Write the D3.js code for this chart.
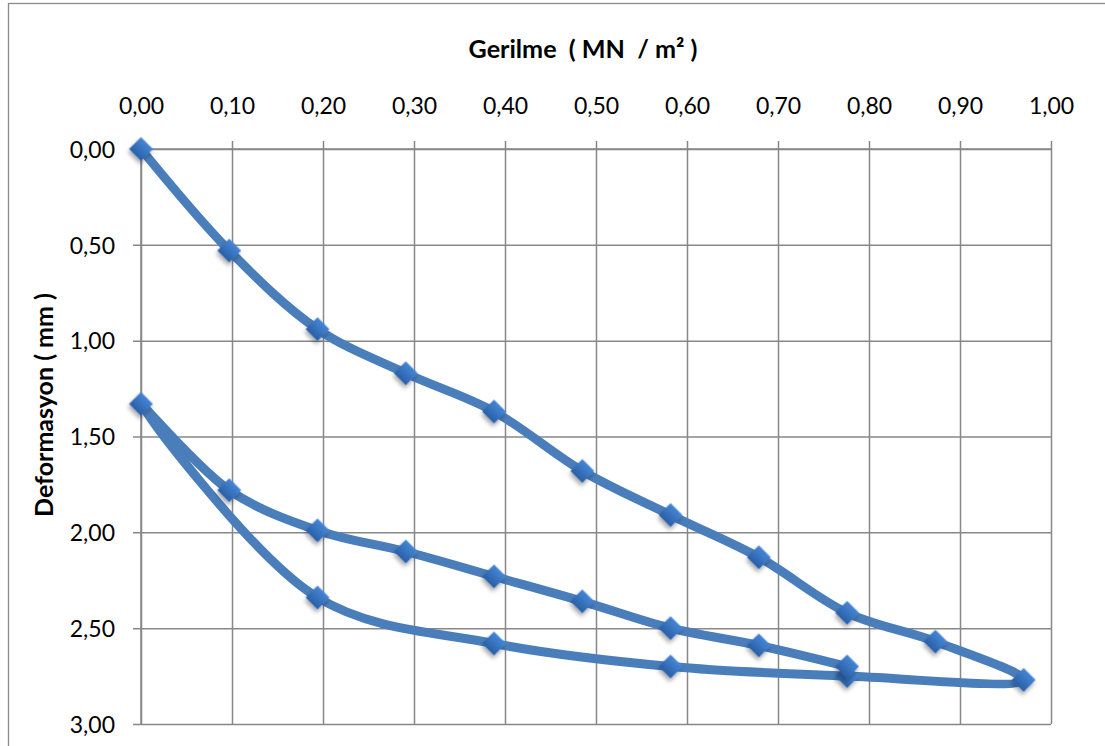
<!DOCTYPE html>
<html>
<head>
<meta charset="utf-8">
<script src="https://cdn.jsdelivr.net/npm/d3@7"></script>
<style>
  html, body { margin: 0; padding: 0; background: #ffffff; }
  svg { display: block; }
  text { font-family: Lato, "Open Sans", sans-serif; fill: #000; }
</style>
</head>
<body>
<svg id="chart" width="1105" height="746"></svg>
<script>
// ---- data (single smoothed series: loading, unloading, reloading) ----
const stress = [0.000, 0.097, 0.194, 0.291, 0.388, 0.485, 0.582, 0.679, 0.776, 0.873, 0.970,
                0.776, 0.582, 0.388, 0.194, 0.000,
                0.097, 0.194, 0.291, 0.388, 0.485, 0.582, 0.679, 0.776];
const deformation = [0.00, 0.53, 0.94, 1.17, 1.37, 1.68, 1.91, 2.13, 2.42, 2.57, 2.77,
                     2.75, 2.70, 2.58, 2.34, 1.33,
                     1.78, 1.99, 2.10, 2.23, 2.36, 2.50, 2.59, 2.70];
const xTickValues = [0, 0.1, 0.2, 0.3, 0.4, 0.5, 0.6, 0.7, 0.8, 0.9, 1.0];
const xTickLabels = ["0,00","0,10","0,20","0,30","0,40","0,50","0,60","0,70","0,80","0,90","1,00"];
const yTickValues = [0, 0.5, 1.0, 1.5, 2.0, 2.5, 3.0];
const yTickLabels = ["0,00","0,50","1,00","1,50","2,00","2,50","3,00"];
const xTitle = "Gerilme\u00a0 ( MN\u00a0 / m\u00b2 )";
const yTitle = "Deformasyon ( mm )";

// ---- layout ----
const W = 1105, H = 746;
const plot = { left: 141, right: 1051, top: 149, bottom: 724 };
const svg = d3.select("#chart");

svg.append("rect").attr("x", 0).attr("y", 0).attr("width", W).attr("height", H).attr("fill", "#fff");
// outer chart frame (extends past the right/bottom edge)
svg.append("rect").attr("x", 8.5).attr("y", 3.5).attr("width", 1200).attr("height", 800)
   .attr("fill", "none").attr("stroke", "#8c8c8c").attr("stroke-width", 1.3);

const x = d3.scaleLinear().domain([0, 1]).range([plot.left, plot.right]);
const y = d3.scaleLinear().domain([0, 3]).range([plot.top, plot.bottom]);

const defs = svg.append("defs");
const grad = defs.append("linearGradient").attr("id", "mk").attr("x1", 0).attr("y1", 0).attr("x2", 0).attr("y2", 1);
grad.append("stop").attr("offset", "0%").attr("stop-color", "#4586d6");
grad.append("stop").attr("offset", "100%").attr("stop-color", "#2a5fa6");
const f = defs.append("filter").attr("id", "sh").attr("x", "-50%").attr("y", "-50%").attr("width", "200%").attr("height", "200%");
f.append("feDropShadow").attr("dx", 1.5).attr("dy", 3).attr("stdDeviation", 2)
 .attr("flood-color", "#000").attr("flood-opacity", 0.35);

const gridColor = "#878787";

// vertical gridlines + top ticks
const xAxis = d3.axisTop(x).tickValues(xTickValues)
  .tickFormat((d, i) => xTickLabels[i]).tickSize(8).tickPadding(27);
const gx = svg.append("g").attr("transform", `translate(0,${plot.top})`).call(xAxis);
gx.select(".domain").attr("stroke", gridColor).attr("stroke-width", 1.5).attr("d", `M${plot.left},0H${plot.right}`);
gx.selectAll(".tick line").attr("stroke", gridColor).attr("stroke-width", 1.5)
  .attr("y1", plot.bottom - plot.top).attr("y2", -8);
gx.selectAll(".tick text").attr("font-size", 23).attr("font-family", "Lato").attr("fill", "#000");

// horizontal gridlines + left ticks
const yAxis = d3.axisLeft(y).tickValues(yTickValues)
  .tickFormat((d, i) => yTickLabels[i]).tickSize(8).tickPadding(18);
const gy = svg.append("g").attr("transform", `translate(${plot.left},0)`).call(yAxis);
gy.select(".domain").attr("stroke", gridColor).attr("stroke-width", 1.5).attr("d", `M0,${plot.top}V${plot.bottom}`);
gy.selectAll(".tick line").attr("stroke", gridColor).attr("stroke-width", 1.5)
  .attr("x1", -8).attr("x2", plot.right - plot.left);
gy.selectAll(".tick text").attr("font-size", 23).attr("font-family", "Lato").attr("fill", "#000").attr("dy", "0.36em");

// titles
const tX = svg.append("text").attr("x", 583).attr("y", 58).attr("text-anchor", "middle")
  .attr("font-weight", "bold").attr("font-size", 22).attr("xml:space", "preserve").text(xTitle);
const tY = svg.append("text").attr("transform", "translate(53,405) rotate(-90)").attr("text-anchor", "middle")
  .attr("font-weight", "bold").attr("font-size", 22).text(yTitle);
function fitWidth(sel, target) {
  const w = sel.node().getComputedTextLength();
  const fs = +sel.attr("font-size");
  sel.attr("font-size", (fs * target / w).toFixed(2));
}
fitWidth(tX, 229);
fitWidth(tY, 224);

// series
const pts = stress.map((s, i) => [s, deformation[i]]);
const line = d3.line().x(d => x(d[0])).y(d => y(d[1])).curve(d3.curveCatmullRom.alpha(0.5));
svg.append("path").datum(pts).attr("d", line)
  .attr("fill", "none").attr("stroke", "#4a7ebb").attr("stroke-width", 9)
  .attr("stroke-linejoin", "round").attr("stroke-linecap", "round");

svg.append("g").selectAll("path").data(pts).join("path")
  .attr("transform", d => `translate(${x(d[0])},${y(d[1])}) rotate(45)`)
  .attr("d", d3.symbol().type(d3.symbolSquare).size(285))
  .attr("fill", "url(#mk)").attr("filter", "url(#sh)");
</script>
</body>
</html>
